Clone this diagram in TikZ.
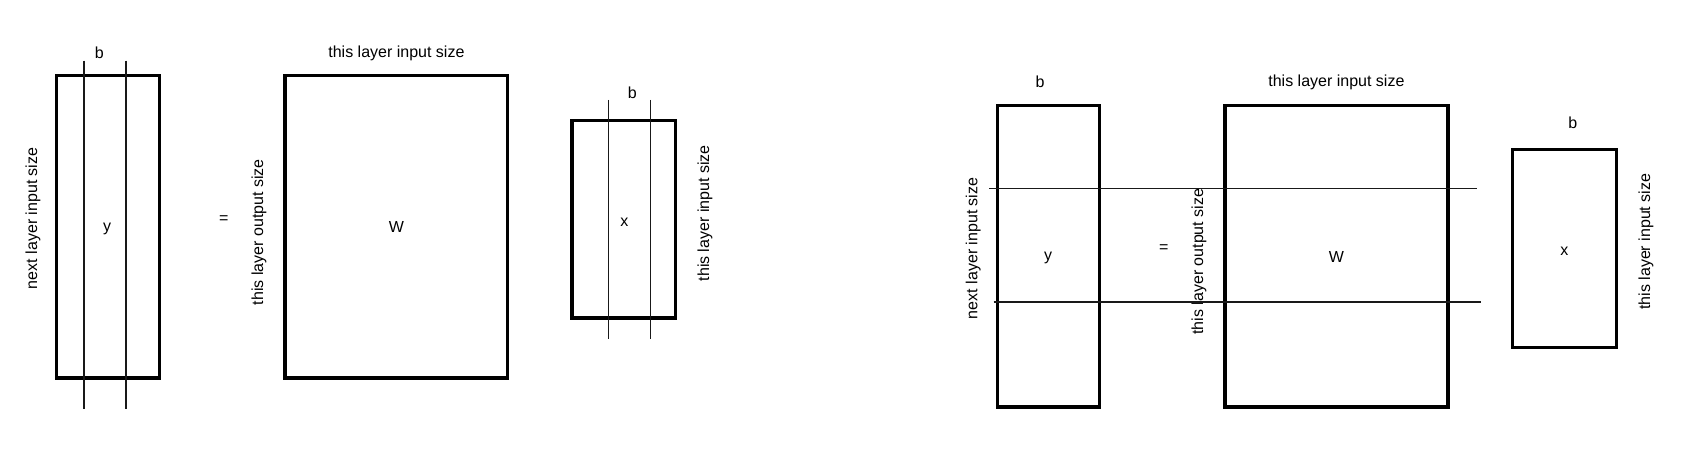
\documentclass[tikz,border=0pt]{standalone}
\usepackage{fontspec}
\setmainfont{Liberation Sans}
\usepackage{tikz}

\tikzset{
  mat/.style={line width=2.5pt},
  cut/.style={line width=1.2pt,black!90},
  lbl/.style={inner sep=0pt,font=\fontsize{12}{14}\selectfont},
  side/.style={lbl,rotate=90}
}

\begin{document}
\begin{tikzpicture}[x=0.75pt,y=-0.75pt,line cap=butt]
\useasboundingbox (0,0) rectangle (1694,456);
% left: y = W x, columns of b
\draw[mat] (56.5,75.5) rectangle (159.5,378);
\draw[cut] (83.9,60.7) -- (83.9,409);
\draw[cut] (125.7,60.7) -- (125.7,409);
\node[lbl] (b1) at (99.3,52.7) {b};
\node[lbl] (y1) at (107.1,229) {y};
\node[side] (n1) at (32.9,218.3) {next layer input size};
\node[lbl] (eq1) at (223.9,219.3) {=};
\node[side] (o1) at (258.9,232.3) {this layer output size};
\draw[mat] (285,75.5) rectangle (507.5,378);
\node[lbl] (w1) at (396.4,227.3) {W};
\node[lbl] (i1) at (396.4,53.3) {this layer input size};
\draw[mat] (572,120.5) rectangle (675.5,318);
\draw[cut] (608.3,100) -- (608.3,339);
\draw[cut] (650.3,100) -- (650.3,339);
\node[lbl] (b2) at (632.3,92.7) {b};
\node[lbl] (x1) at (624.3,222.7) {x};
\node[side] (s1) at (705,213.3) {this layer input size};
% right: rows of the output
\draw[mat] (997.5,105.5) rectangle (1099.5,407);
\node[lbl] (b3) at (1040,81.7) {b};
\node[lbl] (y2) at (1048.2,258.3) {y};
\node[side] (n2) at (973.2,248.3) {next layer input size};
\node[lbl] (eq2) at (1163.9,249) {=};
\node[side] (o2) at (1198.9,261.7) {this layer output size};
\draw[mat] (1225,105.5) rectangle (1448,407);
\node[lbl] (w2) at (1336.4,257.3) {W};
\node[lbl] (i2) at (1336.4,82.7) {this layer input size};
\draw[cut] (989.3,188.3) -- (1476.7,188.3);
\draw[cut] (993.6,301.7) -- (1480.7,301.7);
\draw[mat] (1512.5,149.5) rectangle (1616.5,347.5);
\node[lbl] (b4) at (1572.7,122.3) {b};
\node[lbl] (x2) at (1564.3,251.7) {x};
\node[side] (s2) at (1646,241.7) {this layer input size};
\end{tikzpicture}
\end{document}
